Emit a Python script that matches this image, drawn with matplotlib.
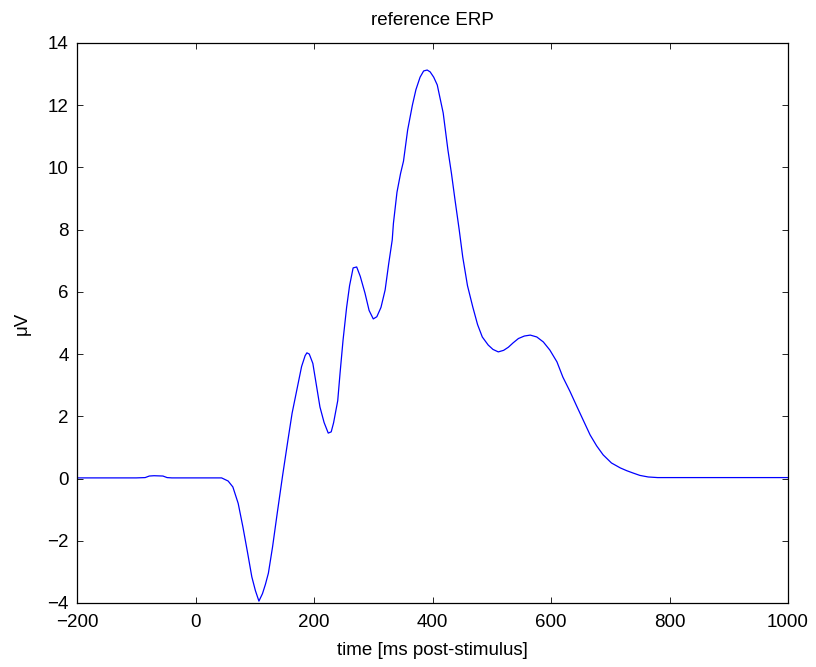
import matplotlib
matplotlib.use("Agg")
import matplotlib.pyplot as plt

# grand-average ERP (ms, µV)
tempo = [-200, -100, -85, -78, -70, -55, -48, -40, 0, 30, 44, 55, 63, 72, 80,
         88, 95, 101, 107, 113, 118, 123, 130, 138, 147, 156, 163, 171, 179,
         185, 188, 192, 198, 204, 210, 217, 224, 229, 233, 240, 244, 249, 255,
         260, 266, 272, 278, 286, 293, 300, 306, 313, 320, 326, 332, 334, 340,
         346, 351, 358, 366, 372, 379, 385, 391, 396, 402, 408, 418, 426, 432,
         438, 445, 451, 459, 468, 476, 484, 494, 502, 511, 520, 528, 536, 545,
         555, 565, 576, 587, 598, 610, 620, 632, 644, 655, 666, 677, 688, 702,
         717, 728, 738, 750, 764, 780, 850, 1000]
amplitude = [0.02, 0.02, 0.03, 0.08, 0.09, 0.08, 0.03, 0.02, 0.02, 0.02, 0.02,
             -0.08, -0.27, -0.8, -1.56, -2.4, -3.16, -3.6, -3.94, -3.7, -3.4,
             -3.04, -2.2, -1.1, 0.1, 1.24, 2.1, 2.85, 3.6, 3.95, 4.04, 4.0,
             3.7, 3.0, 2.3, 1.8, 1.46, 1.5, 1.79, 2.5, 3.4, 4.45, 5.5, 6.2,
             6.77, 6.8, 6.5, 5.96, 5.4, 5.13, 5.2, 5.5, 6.06, 6.9, 7.67, 8.2,
             9.2, 9.8, 10.2, 11.2, 12.0, 12.5, 12.9, 13.1, 13.13, 13.07, 12.9,
             12.65, 11.75, 10.56, 9.8, 8.95, 8.0, 7.12, 6.2, 5.51, 4.95, 4.55,
             4.29, 4.15, 4.07, 4.12, 4.22, 4.36, 4.5, 4.58, 4.61, 4.55, 4.39,
             4.13, 3.75, 3.26, 2.8, 2.3, 1.85, 1.4, 1.05, 0.76, 0.5, 0.34,
             0.25, 0.18, 0.1, 0.05, 0.03, 0.03, 0.03]

XTICKS = list(range(-200, 1001, 200))
YTICKS = list(range(-4, 15, 2))

plt.rcParams["font.family"] = ["Liberation Sans", "DejaVu Sans"]

fig = plt.figure(figsize=(8.16, 6.67), dpi=100)
ax = fig.add_axes([0.0944, 0.096, 0.8713, 0.8396])
ax.plot(tempo, amplitude, color="#0000ff", linewidth=0.9)

ax.set_xlim(-200, 1000)
ax.set_ylim(-4, 14)
ax.set_xticks(XTICKS)
ax.set_yticks(YTICKS)
ax.tick_params(direction="in", length=4.5, width=0.6, labelsize=13.5,
               top=True, right=True)
ax.tick_params(axis="x", pad=8)
ax.tick_params(axis="y", pad=6)
for s in ax.spines.values():
    s.set_linewidth(0.9)

ax.set_title("reference ERP", fontsize=13.5, pad=13)
ax.set_xlabel("time [ms post-stimulus]", fontsize=13.5, labelpad=8)
ax.set_ylabel("\u03bcV", fontsize=13.5, labelpad=12)

fig.savefig("out.png", dpi=100)
